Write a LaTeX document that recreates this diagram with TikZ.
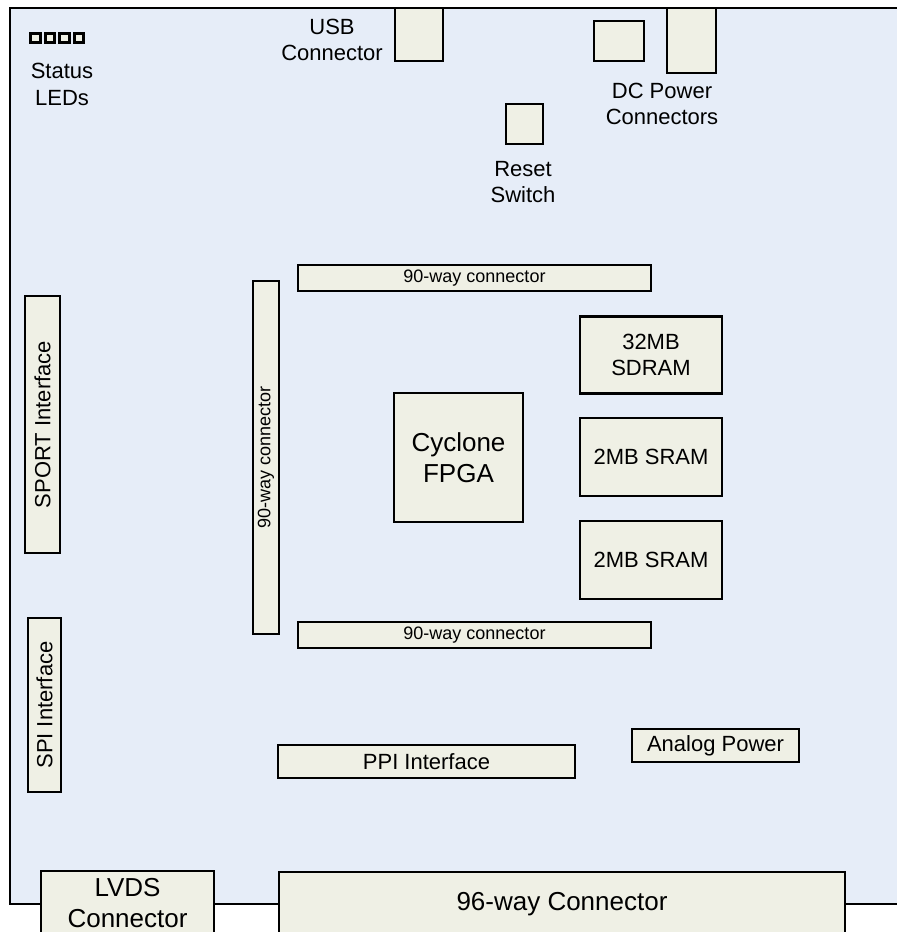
\documentclass[tikz,border=0pt]{standalone}
\usepackage{fontspec}
\setmainfont{Liberation Sans}
\definecolor{boardfill}{RGB}{230,237,248}
\definecolor{compfill}{RGB}{239,240,229}
\begin{document}
\begin{tikzpicture}[x=1pt,y=-1pt,
  comp/.style={draw=black, fill=compfill, line width=2.2pt, inner sep=0pt, outer sep=0pt, align=center, font=\fontsize{22}{26.4}\selectfont},
  smalltxt/.style={font=\fontsize{18}{21.6}\selectfont},
  bigtxt/.style={font=\fontsize{26}{31.2}\selectfont},
  lbl/.style={inner sep=0pt, align=center, font=\fontsize{22}{26.4}\selectfont},
  led/.style={draw=black, fill=compfill, line width=2.6pt, inner sep=0pt, minimum width=9.5, minimum height=9.5}]
\useasboundingbox (0,0) rectangle (897,932);
% board
\path[fill=boardfill] (10,8) rectangle (910,904);
\draw[line width=2pt] (910,8) -- (10,8) -- (10,904) -- (910,904);
% status LEDs
\node[led] (led1) at (35.5,38) {};
\node[led] (led2) at (50,38) {};
\node[led] (led3) at (64.5,38) {};
\node[led] (led4) at (79,38) {};
\node[lbl] (ledlbl) at (62,84.5) {Status\\LEDs};
% USB
\node[comp, minimum width=48, minimum height=53] (usb) at (419,34.5) {};
\node[lbl] (usblbl) at (332,40) {USB\\Connector};
% DC power
\node[comp, minimum width=50, minimum height=40] (dc1) at (619,41) {};
\node[comp, minimum width=49, minimum height=65] (dc2) at (691.5,40.5) {};
\node[lbl] (dclbl) at (662,104) {DC Power\\Connectors};
% reset
\node[comp, minimum width=37, minimum height=40] (reset) at (524.5,124) {};
\node[lbl] (resetlbl) at (523,182) {Reset\\Switch};
% 90-way connectors
\node[comp, smalltxt, minimum width=353, minimum height=26] (c90top) at (474.5,278) {90-way connector};
\node[comp, smalltxt, rotate=90, minimum width=353, minimum height=26] (c90left) at (266,457.5) {90-way connector};
\node[comp, smalltxt, minimum width=353, minimum height=26] (c90bot) at (474.5,635) {90-way connector};
% memories
\node[comp, minimum width=142, minimum height=77] (sdram) at (651,355) {32MB\\SDRAM};
\node[comp, minimum width=142, minimum height=78] (sram1) at (651,457) {2MB SRAM};
\node[comp, minimum width=142, minimum height=78] (sram2) at (651,560) {2MB SRAM};
% FPGA
\node[comp, bigtxt, minimum width=129, minimum height=129] (fpga) at (458.5,457.5) {Cyclone\\FPGA};
% interfaces
\node[comp, rotate=90, minimum width=257, minimum height=35] (sport) at (42.5,424.5) {SPORT Interface};
\node[comp, rotate=90, minimum width=174, minimum height=33] (spi) at (44.5,705) {SPI Interface};
\node[comp, minimum width=297, minimum height=33] (ppi) at (426.5,761.5) {PPI Interface};
\node[comp, minimum width=167, minimum height=33] (analog) at (715.5,745.5) {Analog Power};
% bottom connectors
\node[comp, bigtxt, minimum width=173, minimum height=64] (lvds) at (127.5,903) {LVDS\\Connector};
\node[comp, bigtxt, minimum width=566, minimum height=64] (c96) at (562,904) {96-way Connector};
\end{tikzpicture}
\end{document}
